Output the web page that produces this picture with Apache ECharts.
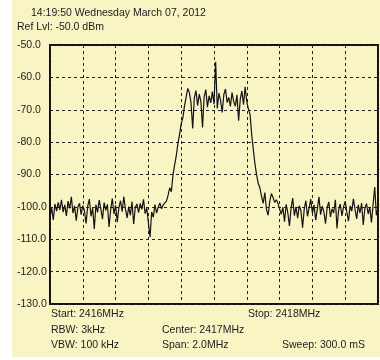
<!DOCTYPE html>
<html>
<head>
<meta charset="utf-8">
<script src="https://cdn.jsdelivr.net/npm/echarts@6/dist/echarts.min.js"></script>
<style>
  html, body { margin: 0; padding: 0; background: #fff; }
  #main { width: 380px; height: 360px; }
</style>
</head>
<body>
<div id="main"></div>
<script>
const chart = echarts.init(document.getElementById('main'));

// sweep settings
const startMHz = 2416;
const stopMHz = 2418;
const stepMHz = 0.01;

const yTicks = [-130, -120, -110, -100, -90, -80, -70, -60, -50];

// trace level in dBm, one value per 10 kHz bin
const traceDbm = [
  -103.5, -100.2, -104.0, -99.1, -101.3, -98.6, -100.9, -97.8, -101.6, -99.4,
  -102.8, -98.2, -100.5, -96.9, -101.9, -99.7, -104.3, -100.1, -98.9, -102.4,
  -99.6, -101.2, -105.1, -99.8, -97.6, -102.9, -100.4, -106.8, -99.3, -101.7,
  -97.9, -100.6, -103.8, -98.7, -101.1, -99.2, -106.2, -100.9, -97.4, -102.2,
  -99.5, -104.7, -100.3, -98.1, -101.5, -96.8, -100.7, -103.4, -99.9, -102.6,
  -98.4, -105.3, -100.2, -99.1, -101.8, -98.9, -100.8, -97.7, -102.1, -100.4,
  -104.9, -109.4, -101.6, -103.2, -99.3, -101.9, -100.1, -98.8, -100.6, -99.4,
  -99.5, -98.2, -96.4, -94.1, -95.3, -90.1, -87.0, -84.2, -80.4, -77.6,
  -74.3, -72.5, -68.9, -66.1, -63.4, -64.8, -67.9, -75.8, -66.3, -64.1,
  -68.7, -65.2, -67.4, -75.5, -66.0, -63.8, -69.2, -65.7, -67.9, -64.4,
  -68.3, -55.2, -69.6, -64.9, -67.1, -70.8, -65.3, -63.6, -67.8, -66.2,
  -69.0, -64.7, -67.5, -68.9, -65.4, -73.4, -66.8, -64.2, -68.4, -62.9,
  -67.6, -69.8, -71.5, -77.8, -82.4, -86.9, -90.2, -92.8, -94.1, -96.8,
  -98.9, -95.6, -100.8, -102.6, -98.3, -95.9, -97.1, -98.6, -97.8, -98.9,
  -99.4, -102.3, -100.1, -104.6, -99.2, -101.8, -105.9, -100.4, -97.3, -102.7,
  -100.0, -103.5, -99.6, -101.2, -106.4, -100.8, -98.1, -102.9, -100.3, -97.6,
  -101.9, -99.4, -104.1, -100.7, -96.9, -102.4, -99.8, -101.5, -105.2, -100.2,
  -98.5, -103.1, -100.6, -101.9, -97.8, -106.7, -100.9, -99.1, -102.8, -100.0,
  -98.3, -101.6, -104.4, -99.7, -101.3, -97.5, -100.8, -103.7, -99.4, -101.9,
  -98.8, -105.6, -100.5, -99.0, -102.2, -100.1, -104.8, -99.3, -93.9, -102.6,
  -100.4
];

const headerLines = ['14:19:50 Wednesday March 07, 2012', 'Ref Lvl: -50.0 dBm'];
const footerLines = [
  ['Start: 2416MHz', 'Stop: 2418MHz'],
  ['RBW: 3kHz', 'Center: 2417MHz'],
  ['VBW: 100 kHz', 'Span: 2.0MHz', 'Sweep: 300.0 mS']
];

const panel = '#f8f4c4';
const ink = '#1c1c1c';
const font = 'Liberation Sans, Arial, sans-serif';

function label(text, x, y) {
  return {
    type: 'text',
    x: x,
    y: y,
    style: {
      text: text,
      fill: ink,
      font: '10.5px ' + font,
      textVerticalAlign: 'middle'
    }
  };
}

const traceData = traceDbm.map((v, i) => [startMHz + i * stepMHz, v]);

chart.setOption({
  animation: false,
  backgroundColor: '#fff',
  graphic: [
    {
      type: 'rect',
      z: -10,
      shape: { x: 12, y: 0, width: 368, height: 357 },
      style: { fill: panel }
    },
    label(headerLines[0], 31, 13),
    label(headerLines[1], 17, 27),
    label(footerLines[0][0], 51, 314),
    label(footerLines[0][1], 248, 314),
    label(footerLines[1][0], 51, 330),
    label(footerLines[1][1], 162, 330),
    label(footerLines[2][0], 51, 345),
    label(footerLines[2][1], 162, 345),
    label(footerLines[2][2], 282, 345)
  ],
  grid: {
    left: 50,
    right: 2,
    top: 45,
    bottom: 56,
    show: true,
    backgroundColor: panel,
    borderColor: '#111',
    borderWidth: 2
  },
  xAxis: {
    type: 'value',
    min: startMHz,
    max: stopMHz,
    interval: 0.2,
    axisLine: { show: false },
    axisTick: { show: false },
    axisLabel: { show: false },
    splitLine: {
      show: true,
      lineStyle: { color: '#222', width: 1, type: [3, 3] }
    }
  },
  yAxis: {
    type: 'value',
    min: yTicks[0],
    max: yTicks[yTicks.length - 1],
    interval: 10,
    axisLine: { show: false },
    axisTick: { show: false },
    axisLabel: {
      align: 'left',
      margin: 33,
      color: ink,
      fontFamily: font,
      fontSize: 10.5,
      formatter: v => v.toFixed(1)
    },
    splitLine: {
      show: true,
      lineStyle: { color: '#222', width: 1, type: [3, 3] }
    }
  },
  series: [{
    type: 'line',
    data: traceData,
    showSymbol: false,
    lineStyle: { color: '#141414', width: 1.2 }
  }]
});
</script>
</body>
</html>
